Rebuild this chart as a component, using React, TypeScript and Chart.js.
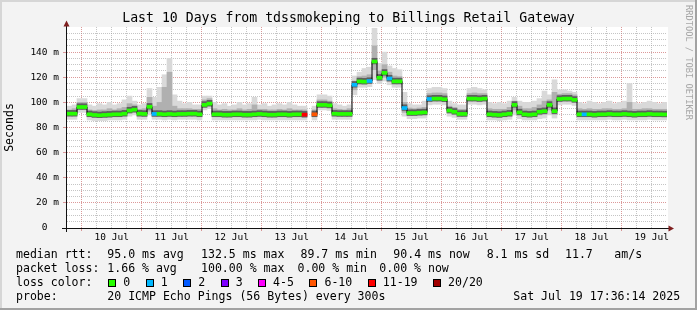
import React, { useEffect, useRef } from 'react';
import { Chart, registerables } from 'chart.js';

Chart.register(...registerables);

// time axis: hours relative to 10 Jul 00:00
const X_MIN_H = -5.9;
const X_MAX_H = 234.1;
const STEP_H = 2;

const dayLabels = ['10 Jul', '11 Jul', '12 Jul', '13 Jul', '14 Jul', '15 Jul', '16 Jul', '17 Jul', '18 Jul', '19 Jul'];
const hourTicks = Array.from({ length: 39 }, (_, i) => i * 6); // 0 .. 228 h

// median rtt (ms), one value per 2 h sample
const median = [
  91, 91, 96.3, 96.3, 90.5, 90, 89.7, 90, 90.2, 90.5,
  90.5, 91, 93.5, 94.2, 91, 90.8, 96.5, 90.8, 90.8, 90.5,
  90.8, 90.5, 90.8, 90.8, 91, 91, 90.5, 98, 99, 90.5,
  90.5, 90.2, 90.2, 90.5, 90.5, 90.2, 90.2, 90.5, 90.8, 90.5,
  90.2, 90.2, 90.5, 90.5, 90.2, 90.5, 90.5, 90.2, null, 90.5,
  98, 98, 97.6, 91, 90.8, 90.8, 90.8, 114, 116.7, 116.5,
  117, 132.5, 119.6, 123.5, 119, 116.7, 116.7, 95.5, 91.5, 91.5,
  91.8, 92, 102.7, 103, 103, 102.5, 93.5, 92.5, 90.8, 90.8,
  103, 103, 102.7, 103, 90.5, 90.2, 90, 90.5, 91, 98,
  92, 90.5, 90.2, 90.5, 92.5, 93, 98, 93, 102.7, 103,
  103, 102, 90.5, 90.5, 90.5, 90.2, 90.5, 90.5, 90.8, 90.5,
  90.5, 90.8, 90.5, 90.2, 90.5, 90.5, 90.8, 90.5, 90.5, 90.4,
];

// lost pings (of 20) per sample
const lossPings = [
  0, 0, 0, 0, 0, 0, 0, 0, 0, 0,
  0, 0, 0, 0, 0, 0, 0, 1, 0, 0,
  0, 0, 0, 0, 0, 0, 0, 0, 0, 0,
  0, 0, 0, 0, 0, 0, 0, 0, 0, 0,
  0, 0, 0, 0, 0, 0, 0, 12, 0, 8,
  0, 0, 0, 0, 0, 0, 0, 1, 0, 0,
  1, 0, 0, 0, 1, 0, 0, 1, 0, 0,
  0, 0, 1, 0, 0, 0, 0, 0, 0, 0,
  0, 0, 0, 0, 0, 0, 0, 0, 0, 0,
  0, 0, 0, 0, 0, 0, 0, 0, 0, 0,
  0, 0, 0, 1, 0, 0, 0, 0, 0, 0,
  0, 0, 0, 0, 0, 0, 0, 0, 0, 0,
];

// smoke: spread of the 20 pings
const smokeMax = [
  97, 98, 103, 103, 98, 97, 99, 98, 100, 98,
  99, 102, 105, 101, 98, 99, 111, 104, 112, 122,
  135, 106, 101, 99, 100, 98, 98, 105, 105, 100,
  98, 99, 97, 98, 100, 98, 99, 104, 98, 99,
  97, 98, 99, 98, 100, 98, 97, 97, null, 97,
  106, 106, 105, 99, 98, 97, 98, 121, 124, 127,
  128, 159, 131, 140, 129, 127, 126, 108, 99, 98,
  98, 101, 111, 112, 112, 111, 101, 99, 98, 98,
  111, 112, 111, 110, 100, 99, 100, 99, 101, 104,
  101, 100, 100, 101, 103, 109, 106, 118, 110, 110,
  109, 108, 100, 99, 101, 100, 99, 100, 101, 99,
  100, 101, 115, 100, 99, 100, 101, 100, 99, 100,
];
const smokeUp = [
  94, 95, 100, 100, 94, 93.5, 94, 94, 95, 94,
  95, 96, 99, 98, 94.5, 95, 104, 97, 100, 112,
  124, 97, 95, 95, 95, 94.5, 94.5, 102, 103, 95,
  94, 94.5, 94, 94, 95, 94, 94.5, 98, 94.5, 94.5,
  94, 94, 94.5, 94, 95, 94, 94, 94, null, 94,
  102, 102, 101, 95, 94.5, 94, 95, 117, 120.5, 121,
  122, 145, 125, 130, 124, 121, 120.5, 100, 95.5, 95,
  95.5, 96, 107, 107.5, 107.5, 107, 97, 96, 94.5, 94.5,
  107, 107.5, 107, 107, 95, 94.5, 94.5, 94.5, 96, 101,
  97, 95, 95, 96, 98, 101, 102, 108, 106.5, 107,
  107, 106, 95, 94.5, 95, 94.5, 94.5, 95, 95, 94.5,
  94.5, 95, 100, 94.5, 94.5, 95, 95, 94.5, 94.5, 94.5,
];
const smokeLow = [
  89, 89, 94.5, 94.5, 88.5, 88, 87.8, 88, 88.3, 88.5,
  88.5, 89, 91.5, 92, 89, 88.8, 93, 88.8, 88.8, 88.5,
  88.8, 88.5, 88.8, 88.8, 89, 89, 88.5, 96, 97, 88.5,
  88.5, 88.3, 88.3, 88.5, 88.5, 88.3, 88.3, 88.5, 88.8, 88.5,
  88.3, 88.3, 88.5, 88.5, 88.3, 88.5, 88.5, 88.3, null, 88.5,
  96, 96, 95.5, 89, 88.8, 88.8, 88.8, 110, 114.5, 114.5,
  115, 126, 117.5, 120, 116.5, 114.5, 114.5, 92, 89.5, 89.5,
  89.8, 90, 100.5, 101, 101, 100.5, 91.5, 90.5, 88.8, 88.8,
  101, 101, 100.5, 101, 88.5, 88.3, 88, 88.5, 89, 94,
  90, 88.5, 88.3, 88.5, 90, 90.5, 94, 90.5, 100.5, 101,
  101, 100, 88.5, 88.5, 88.5, 88.3, 88.5, 88.5, 88.8, 88.5,
  88.5, 88.8, 88.5, 88.3, 88.5, 88.5, 88.8, 88.5, 88.5, 88.5,
];
const smokeMin = [
  86.5, 86.5, 92, 92, 86, 85.5, 85.5, 85.5, 86, 86,
  86, 86.5, 89, 90, 86.5, 86.5, 90, 86.5, 86.5, 86,
  86.5, 86, 86.5, 86.5, 86.5, 86.5, 86, 94, 95, 86,
  86, 86, 86, 86, 86, 86, 86, 86, 86.5, 86,
  86, 86, 86, 86, 86, 86, 86, 86, null, 86,
  94, 94, 93.5, 86.5, 86.5, 86.5, 86.5, 106, 112, 112,
  112.5, 118, 115, 117, 114, 112, 112, 89, 87, 87,
  87.5, 87.5, 98, 98.5, 98.5, 98, 89, 88, 86.5, 86.5,
  98.5, 98.5, 98, 98.5, 86, 86, 85.5, 86, 86.5, 90,
  87, 86, 86, 86, 87, 87.5, 90, 87.5, 98, 98.5,
  98.5, 97.5, 86, 86, 86, 86, 86, 86, 86.5, 86,
  86, 86.5, 86, 86, 86, 86, 86.5, 86, 86, 86,
];

const lossLabels = ['0', '1', '2', '3', '4-5', '6-10', '11-19', '20/20'];
const lossThresholds = [0, 1, 2, 3, 5, 10, 19, 20];
const lossColors = ['#26ff00', '#00b8ff', '#0059ff', '#7e00ff', '#ff00ff', '#ff5500', '#ff0000', '#a10000'];

const titleText = 'Last 10 Days from tdssmokeping to Billings Retail Gateway';
const yAxisTitle = 'Seconds';
const watermark = 'RRDTOOL / TOBI OETIKER';
const medianRow = ['median rtt:', '95.0 ms avg', '132.5 ms max', '89.7 ms min', '90.4 ms now', '8.1 ms sd', '11.7', 'am/s'];
const lossRow = ['packet loss:', '1.66 % avg', '100.00 % max', '0.00 % min', '0.00 % now'];
const lossColorRowLabel = 'loss color:';
const probeRow = ['probe:', '20 ICMP Echo Pings (56 Bytes) every 300s', 'Sat Jul 19 17:36:14 2025'];

const MONO = '"DejaVu Sans Mono", "Liberation Mono", monospace';
const GRID_GRAY = 'rgba(150,150,150,0.55)';
const GRID_RED = 'rgba(205,110,110,0.7)';
const CLEAR = 'rgba(0,0,0,0)';

const times = median.map((_, i) => X_MIN_H + STEP_H / 2 + i * STEP_H);

function lossColor(n: number) {
  const idx = lossThresholds.findIndex((t) => n <= t);
  return lossColors[idx < 0 ? lossColors.length - 1 : idx];
}

function ranged(lo: (number | null)[], hi: (number | null)[], dLo = 0, dHi = 0) {
  const out: { x: number; y: [number, number] }[] = [];
  times.forEach((x, i) => {
    const a = lo[i];
    const b = hi[i];
    if (a == null || b == null) return;
    out.push({ x, y: [a + dLo, b + dHi] });
  });
  return out;
}

const medianColors: string[] = [];
median.forEach((m, i) => {
  if (m != null) medianColors.push(lossColor(lossPings[i]));
});

const decorPlugin = {
  id: 'rrdDecor',
  beforeDraw(chart: any) {
    const { ctx, chartArea: a, width: W, height: H } = chart;
    ctx.save();
    ctx.fillStyle = '#f3f3f3';
    ctx.fillRect(0, 0, W, H);
    ctx.fillStyle = '#ffffff';
    ctx.fillRect(a.left, a.top, a.right - a.left + 1, a.bottom - a.top);
    ctx.restore();
  },
  afterDraw(chart: any) {
    const { ctx, chartArea: a, width: W, height: H } = chart;
    ctx.save();
    // frame
    ctx.fillStyle = '#d6d6d6';
    ctx.fillRect(0, 0, W, 2);
    ctx.fillRect(0, 0, 2, H);
    ctx.fillStyle = '#a2a2a2';
    ctx.fillRect(0, H - 2, W, 2);
    ctx.fillRect(W - 2, 0, 2, H);

    // axes
    ctx.strokeStyle = '#111111';
    ctx.lineWidth = 1;
    ctx.beginPath();
    ctx.moveTo(a.left - 0.5, a.top - 1);
    ctx.lineTo(a.left - 0.5, a.bottom + 4);
    ctx.stroke();
    ctx.beginPath();
    ctx.moveTo(a.left - 5, a.bottom + 0.5);
    ctx.lineTo(a.right + 2, a.bottom + 0.5);
    ctx.stroke();
    ctx.fillStyle = '#7f1f1f';
    ctx.beginPath();
    ctx.moveTo(a.left - 0.5, a.top - 6.5);
    ctx.lineTo(a.left - 3.5, a.top - 0.5);
    ctx.lineTo(a.left + 2.5, a.top - 0.5);
    ctx.closePath();
    ctx.fill();
    ctx.beginPath();
    ctx.moveTo(a.right + 7, a.bottom + 0.5);
    ctx.lineTo(a.right + 1.5, a.bottom - 2.5);
    ctx.lineTo(a.right + 1.5, a.bottom + 3.5);
    ctx.closePath();
    ctx.fill();

    // title
    ctx.fillStyle = '#000';
    ctx.font = `13.2px ${MONO}`;
    ctx.textAlign = 'center';
    ctx.textBaseline = 'middle';
    ctx.fillText(titleText, W / 2, 19);

    // vertical axis title
    ctx.save();
    ctx.translate(9.5, 127.5);
    ctx.rotate(-Math.PI / 2);
    ctx.font = `11.55px ${MONO}`;
    ctx.fillText(yAxisTitle, 0, 0);
    ctx.restore();

    // watermark
    ctx.save();
    ctx.translate(688.5, 5);
    ctx.rotate(Math.PI / 2);
    ctx.font = `8.7px ${MONO}`;
    ctx.fillStyle = '#a6a6a6';
    ctx.textAlign = 'left';
    ctx.fillText(watermark, 0, 0);
    ctx.restore();

    // legend
    ctx.font = `11.55px ${MONO}`;
    ctx.textAlign = 'left';
    ctx.textBaseline = 'middle';
    ctx.fillStyle = '#000';
    const r1x = [16, 107.3, 201, 300.5, 393.3, 486.7, 565, 614.3];
    medianRow.forEach((t, i) => ctx.fillText(t, r1x[i], 254.5));
    const r2x = [16, 107.3, 201, 297.5, 379.3];
    lossRow.forEach((t, i) => ctx.fillText(t, r2x[i], 268.5));
    ctx.fillText(lossColorRowLabel, 16, 282.5);
    let bx = 108.3;
    lossLabels.forEach((lab, i) => {
      const x0 = Math.round(bx);
      ctx.fillStyle = '#000';
      ctx.fillRect(x0, 279, 8, 8);
      ctx.fillStyle = lossColors[i];
      ctx.fillRect(x0 + 1, 280, 6, 6);
      ctx.fillStyle = '#000';
      const lx = bx + 15;
      ctx.fillText(lab, lx, 282.5);
      bx = lx + ctx.measureText(lab).width + 15.5;
    });
    const r4x = [16, 107.3, 513.3];
    probeRow.forEach((t, i) => ctx.fillText(t, r4x[i], 296.5));
    ctx.restore();
  },
};

const barCommon = {
  type: 'bar' as const,
  borderWidth: 0,
  borderSkipped: false,
  barPercentage: 1,
  categoryPercentage: 1,
  grouped: false,
};

export default function App() {
  const ref = useRef<HTMLCanvasElement>(null);
  useEffect(() => {
    document.body.style.margin = '0';
    const chart = new Chart(ref.current as HTMLCanvasElement, {
      type: 'bar',
      data: {
        datasets: [
          { ...barCommon, label: 'smoke outer', data: ranged(smokeMin, smokeMax), backgroundColor: '#d9d9d9', order: 5 } as any,
          { ...barCommon, label: 'smoke inner', data: ranged(smokeLow, smokeUp), backgroundColor: '#b0b0b0', order: 4 } as any,
          { ...barCommon, label: 'smoke core', data: ranged(median, median, -1.9, 2.6), backgroundColor: '#5e5e5e', order: 3 } as any,
          {
            type: 'line',
            label: 'median step',
            data: times.map((x, i) => ({ x, y: median[i] })),
            stepped: 'middle',
            borderColor: '#000000',
            borderWidth: 1,
            pointRadius: 0,
            spanGaps: false,
            order: 2,
          } as any,
          { ...barCommon, label: 'median rtt', data: ranged(median, median, -1.2, 1.2), backgroundColor: medianColors, order: 1 } as any,
        ],
      },
      options: {
        animation: false,
        responsive: false,
        devicePixelRatio: 1,
        events: [],
        layout: { padding: { left: 0, top: 27, right: 30, bottom: 0 } },
        plugins: { legend: { display: false }, tooltip: { enabled: false }, title: { display: false } },
        scales: {
          x: {
            type: 'linear',
            min: X_MIN_H,
            max: X_MAX_H,
            offset: false,
            afterFit: (s: any) => { s.height = 82; },
            afterBuildTicks: (s: any) => { s.ticks = hourTicks.map((v) => ({ value: v })); },
            grid: {
              offset: false,
              lineWidth: 1,
              drawTicks: true,
              tickLength: 3,
              color: (c: any) => (c.tick && c.tick.value % 24 === 0 ? GRID_RED : GRID_GRAY),
              tickColor: (c: any) => (c.tick && c.tick.value % 24 === 0 ? GRID_RED : CLEAR),
            },
            border: { display: false, dash: [1, 1] },
            ticks: {
              autoSkip: false,
              maxRotation: 0,
              minRotation: 0,
              padding: 1,
              color: '#000',
              font: { family: MONO, size: 9.5, lineHeight: 1.2 },
              callback: (v: any) => (Number(v) % 24 === 12 ? dayLabels[(Number(v) - 12) / 24] : ''),
            },
          },
          y: {
            type: 'linear',
            min: 0,
            max: 160,
            afterFit: (s: any) => { s.width = 67; },
            grid: {
              lineWidth: 1,
              drawTicks: true,
              tickLength: 4,
              color: (c: any) => {
                const v = c.tick ? c.tick.value : 0;
                if (v <= 0 || v >= 160) return CLEAR;
                return v % 20 === 0 ? GRID_RED : GRID_GRAY;
              },
              tickColor: (c: any) => {
                const v = c.tick ? c.tick.value : 0;
                return v > 0 && v < 160 && v % 20 === 0 ? GRID_RED : CLEAR;
              },
            },
            border: { display: false, dash: [1, 1] },
            ticks: {
              stepSize: 5,
              autoSkip: false,
              padding: 4,
              color: '#000',
              font: { family: MONO, size: 9.5, lineHeight: 1.2 },
              callback: (v: any) => {
                const n = Number(v);
                if (n % 20 !== 0 || n >= 160) return '';
                return n === 0 ? '0  ' : `${n} m`;
              },
            },
          },
        },
      },
      plugins: [decorPlugin],
    } as any);
    return () => chart.destroy();
  }, []);
  return (
    <div style={{ width: 697, height: 310 }}>
      <canvas ref={ref} width={697} height={310} style={{ display: 'block', width: 697, height: 310 }} />
    </div>
  );
}
